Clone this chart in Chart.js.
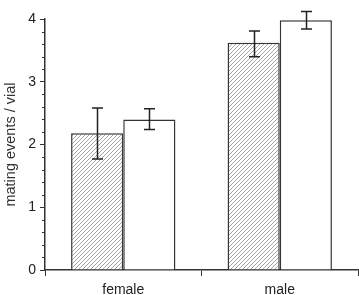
<!DOCTYPE html>
<html>
<head>
<meta charset="utf-8">
<script src="https://cdn.jsdelivr.net/npm/chart.js@4"></script>
<style>
  html, body { margin: 0; padding: 0; background: #fff; }
  canvas { display: block; }
</style>
</head>
<body>
<canvas id="myChart" width="359" height="295"></canvas>
<script>
var categories = ['female', 'male'];
var hatchedMeans = [2.18, 3.62];
var hatchedLow = [1.77, 3.40];
var hatchedHigh = [2.58, 3.81];
var openMeans = [2.40, 3.98];
var openLow = [2.24, 3.84];
var openHigh = [2.57, 4.12];

// diagonal hatch pattern
function makeHatch() {
    var size = 4;
    var c = document.createElement('canvas');
    c.width = size;
    c.height = size;
    var g = c.getContext('2d');
    g.fillStyle = '#fff';
    g.fillRect(0, 0, size, size);
    g.strokeStyle = '#9a9a9a';
    g.lineWidth = 0.9;
    g.beginPath();
    g.moveTo(0, size); g.lineTo(size, 0);
    g.moveTo(-1, 1); g.lineTo(1, -1);
    g.moveTo(size - 1, size + 1); g.lineTo(size + 1, size - 1);
    g.stroke();
    return g.createPattern(c, 'repeat');
}

var errorBars = {
    id: 'errorBars',
    afterDatasetsDraw: function (chart) {
        var ctx = chart.ctx;
        var y = chart.scales.y;
        var lows = [hatchedLow, openLow];
        var highs = [hatchedHigh, openHigh];
        ctx.save();
        ctx.strokeStyle = '#222';
        ctx.lineWidth = 1.5;
        for (var d = 0; d < 2; d++) {
            var meta = chart.getDatasetMeta(d);
            meta.data.forEach(function (bar, i) {
                var x = Math.round(bar.x) + 0.5;
                var top = y.getPixelForValue(highs[d][i]);
                var bot = y.getPixelForValue(lows[d][i]);
                ctx.beginPath();
                ctx.moveTo(x, top); ctx.lineTo(x, bot);
                ctx.moveTo(x - 5.5, top); ctx.lineTo(x + 5.5, top);
                ctx.moveTo(x - 5.5, bot); ctx.lineTo(x + 5.5, bot);
                ctx.stroke();
            });
        }
        ctx.restore();
    }
};

var minorTicks = {
    id: 'minorTicks',
    afterDraw: function (chart) {
        var ctx = chart.ctx;
        var y = chart.scales.y;
        ctx.save();
        ctx.strokeStyle = '#333';
        ctx.lineWidth = 1;
        for (var k = 1; k < 20; k++) {
            if (k % 5 === 0) continue;
            var py = Math.round(y.getPixelForValue(k * 0.2)) + 0.5;
            ctx.beginPath();
            ctx.moveTo(y.right - 3, py);
            ctx.lineTo(y.right, py);
            ctx.stroke();
        }
        ctx.restore();
    }
};

var ctx = document.getElementById('myChart').getContext('2d');
var myChart = new Chart(ctx, {
    type: 'bar',
    data: {
        labels: categories,
        datasets: [{
            data: hatchedMeans,
            backgroundColor: makeHatch(),
            borderColor: '#333',
            borderWidth: 1.5
        },
        {
            data: openMeans,
            backgroundColor: '#fff',
            borderColor: '#333',
            borderWidth: 1.5
        }]
    },
    options: {
        responsive: false,
        animation: false,
        categoryPercentage: 2 / 3,
        barPercentage: 1,
        layout: {
            padding: { top: 19, right: 1, left: 0, bottom: 0 }
        },
        plugins: {
            legend: { display: false },
            tooltip: { enabled: false }
        },
        scales: {
            x: {
                offset: true,
                grid: {
                    offset: true,
                    drawOnChartArea: false,
                    tickLength: 6,
                    color: '#333',
                    lineWidth: 1
                },
                border: { display: true, color: '#333', width: 1.5 },
                ticks: {
                    padding: 6,
                    color: '#222',
                    font: { family: 'Liberation Sans, Arial, sans-serif', size: 14 }
                },
                afterFit: function (scale) { scale.height = 25; }
            },
            y: {
                min: 0,
                max: 4,
                grid: {
                    drawOnChartArea: false,
                    tickLength: 5,
                    color: '#333',
                    lineWidth: 1
                },
                border: { display: true, color: '#333', width: 1.5 },
                ticks: {
                    stepSize: 1,
                    padding: 4,
                    color: '#222',
                    font: { family: 'Liberation Sans, Arial, sans-serif', size: 14 }
                },
                title: {
                    display: true,
                    text: 'mating events / vial',
                    color: '#333',
                    padding: { top: 2, bottom: 0 },
                    font: { family: 'Liberation Sans, Arial, sans-serif', size: 14.5 }
                },
                afterFit: function (scale) { scale.width = 45; }
            }
        }
    },
    plugins: [errorBars, minorTicks]
});
</script>
</body>
</html>
